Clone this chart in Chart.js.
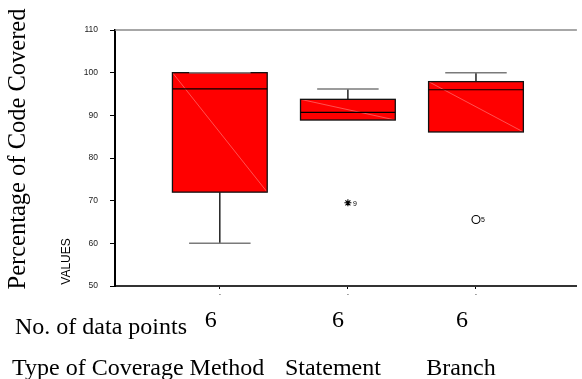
<!DOCTYPE html>
<html>
<head>
<meta charset="utf-8">
<script src="https://cdn.jsdelivr.net/npm/chart.js@4/dist/chart.umd.min.js"></script>
<style>
html,body{margin:0;padding:0;background:#fff;}
#wrap{position:relative;width:582px;height:379px;}
</style>
</head>
<body>
<div id="wrap"><canvas id="c" width="582" height="379"></canvas></div>
<script>
// ---- data ----
const boxPositions = [1, 2, 3];
const whiskerLow  = [60, 88.9, 86.1];
const q1          = [72, 88.9, 86.1];
const median      = [96.2, 90.7, 96.0];
const q3          = [100, 93.75, 97.9];
const whiskerHigh = [100, 96.2, 100];
const outlierBox    = [2, 3];
const outlierValues = [69.5, 65.6];
const outlierLabels = ['9', '5'];
const outlierStyles = ['star', 'circle'];
const counts = [6, 6, 6];
const methodNames = ['', 'Statement', 'Branch'];
const yTicks = [50, 60, 70, 80, 90, 100, 110];

// ---- style ----
const BOX_HALF = 0.37;
const CAP_HALF = 0.24;
const COUNT_SHIFT = [-9, -10, -14];
const NAME_SHIFT = [0, -15, -15];

const boxPlugin = {
  id: 'boxes',
  beforeDatasetsDraw(chart) {
    const ctx = chart.ctx, xs = chart.scales.x, ys = chart.scales.y;
    ctx.save();
    ctx.strokeStyle = '#8a8a8a';
    ctx.lineWidth = 1.5;
    ctx.beginPath();
    ctx.moveTo(chart.chartArea.left, chart.chartArea.top);
    ctx.lineTo(chart.chartArea.right, chart.chartArea.top);
    ctx.stroke();
    boxPositions.forEach((p, i) => {
      const xl = xs.getPixelForValue(p - BOX_HALF);
      const xr = xs.getPixelForValue(p + BOX_HALF);
      const xc = xs.getPixelForValue(p);
      const cl = xs.getPixelForValue(p - CAP_HALF);
      const cr = xs.getPixelForValue(p + CAP_HALF);
      const yq1 = ys.getPixelForValue(q1[i]);
      const yq3 = ys.getPixelForValue(q3[i]);
      const ym = ys.getPixelForValue(median[i]);
      const ywl = ys.getPixelForValue(whiskerLow[i]);
      const ywh = ys.getPixelForValue(whiskerHigh[i]);
      ctx.strokeStyle = '#000';
      ctx.lineWidth = 1.3;
      ctx.beginPath();
      ctx.moveTo(xc, yq1); ctx.lineTo(xc, ywl);
      ctx.moveTo(xc, yq3); ctx.lineTo(xc, ywh);
      ctx.stroke();
      ctx.fillStyle = '#ff0000';
      ctx.fillRect(xl, yq3, xr - xl, yq1 - yq3);
      ctx.strokeStyle = 'rgba(255,150,150,0.9)';
      ctx.lineWidth = 0.6;
      ctx.beginPath();
      ctx.moveTo(xl, yq3); ctx.lineTo(xr, yq1);
      ctx.stroke();
      ctx.strokeStyle = '#111';
      ctx.lineWidth = 1.3;
      ctx.strokeRect(xl, yq3, xr - xl, yq1 - yq3);
      ctx.strokeStyle = '#000';
      ctx.lineWidth = 1.2;
      ctx.beginPath();
      ctx.moveTo(xl, ym); ctx.lineTo(xr, ym);
      ctx.stroke();
      ctx.strokeStyle = '#7a7a7a';
      ctx.lineWidth = 1.5;
      ctx.beginPath();
      if (whiskerLow[i] < q1[i]) { ctx.moveTo(cl, ywl); ctx.lineTo(cr, ywl); }
      ctx.moveTo(cl, ywh); ctx.lineTo(cr, ywh);
      ctx.stroke();
    });
    ctx.restore();
  },
  afterDraw(chart) {
    const ctx = chart.ctx, xs = chart.scales.x, ys = chart.scales.y;
    ctx.save();
    ctx.fillStyle = '#000';
    ctx.font = '7px "Liberation Sans", Arial, sans-serif';
    ctx.textBaseline = 'middle';
    ctx.textAlign = 'left';
    outlierBox.forEach((b, i) => {
      ctx.fillText(outlierLabels[i], xs.getPixelForValue(b) + 5, ys.getPixelForValue(outlierValues[i]) + 1);
    });
    ctx.save();
    ctx.translate(25, 149);
    ctx.rotate(-Math.PI / 2);
    ctx.font = '24.5px "Liberation Serif", "Times New Roman", serif';
    ctx.textAlign = 'center';
    ctx.textBaseline = 'alphabetic';
    ctx.fillText('Percentage of Code Covered', 0, 0);
    ctx.restore();
    ctx.save();
    ctx.translate(69.5, 261.5);
    ctx.rotate(-Math.PI / 2);
    ctx.font = '12px "Liberation Sans", Arial, sans-serif';
    ctx.textAlign = 'center';
    ctx.textBaseline = 'alphabetic';
    ctx.fillText('VALUES', 0, 0);
    ctx.restore();
    ctx.font = '24px "Liberation Serif", "Times New Roman", serif';
    ctx.textBaseline = 'alphabetic';
    ctx.textAlign = 'left';
    ctx.fillText('No. of data points', 15, 334);
    ctx.fillText('Type of Coverage Method', 12, 375);
    ctx.textAlign = 'center';
    counts.forEach((n, i) => {
      const x = xs.getPixelForValue(boxPositions[i]);
      ctx.fillText(String(n), x + COUNT_SHIFT[i], 327);
      if (methodNames[i]) ctx.fillText(methodNames[i], x + NAME_SHIFT[i], 375);
    });
    ctx.restore();
  }
};

new Chart(document.getElementById('c'), {
  type: 'scatter',
  data: {
    datasets: [{
      data: outlierBox.map((b, i) => ({ x: b, y: outlierValues[i] })),
      pointStyle: outlierStyles,
      radius: [3.5, 4],
      borderColor: '#000',
      backgroundColor: 'rgba(0,0,0,0)',
      borderWidth: 1.1
    }]
  },
  options: {
    responsive: false,
    animation: false,
    events: [],
    layout: { padding: { top: 30, right: 0, left: 0, bottom: 0 } },
    plugins: { legend: { display: false }, tooltip: { enabled: false } },
    scales: {
      x: {
        type: 'linear',
        min: 0.1815,
        max: 3.788,
        afterBuildTicks: s => { s.ticks = boxPositions.map(v => ({ value: v })); },
        afterFit: s => { s.height = 93; },
        ticks: { callback: () => '-', font: { size: 7 }, color: '#333', padding: 1, maxRotation: 0, autoSkip: false },
        grid: { drawOnChartArea: false, drawTicks: true, tickLength: 3, color: '#000' },
        border: { color: '#333', width: 2 }
      },
      y: {
        min: 50,
        max: 110,
        afterBuildTicks: s => { s.ticks = yTicks.map(v => ({ value: v })); },
        afterFit: s => { s.width = 115; },
        ticks: { font: { size: 8.5, family: '"Liberation Sans", Arial, sans-serif' }, color: '#222', padding: 12 },
        grid: { drawOnChartArea: false, drawTicks: true, tickLength: 5, color: '#000' },
        border: { color: '#000', width: 2 }
      }
    }
  },
  plugins: [boxPlugin]
});
</script>
</body>
</html>
